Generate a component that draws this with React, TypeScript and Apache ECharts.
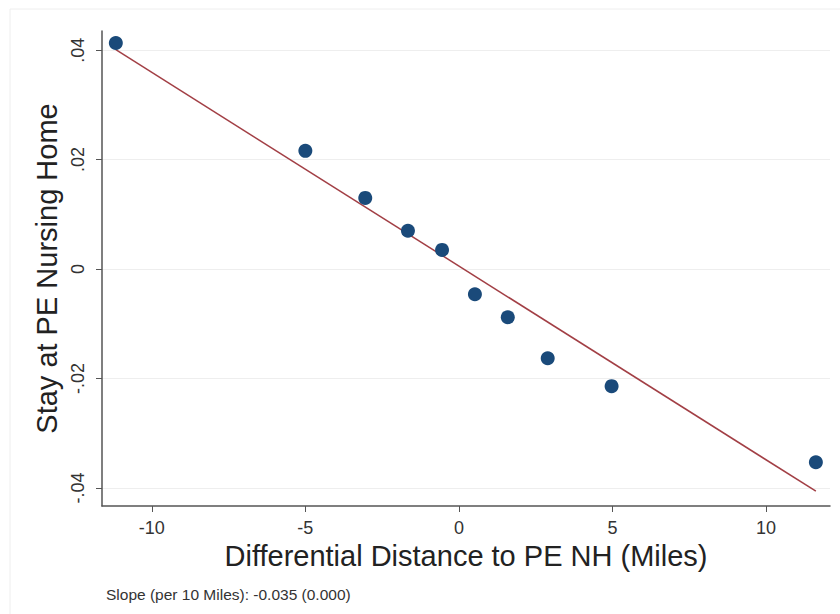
import { useEffect, useRef } from 'react';
import * as echarts from 'echarts';

// binned scatter points (miles, share)
const binX = [-11.17, -5.0, -3.05, -1.66, -0.55, 0.52, 1.59, 2.89, 4.97, 11.62];
const binY = [0.0413, 0.0216, 0.013, 0.007, 0.0035, -0.0046, -0.0088, -0.0163, -0.0214, -0.0353];

// fitted line end points
const fitX = [-11.17, 11.62];
const fitY = [0.0401, -0.0406];

const xTicks = [-10, -5, 0, 5, 10];
const yTicks = [-0.04, -0.02, 0, 0.02, 0.04];

const xTitle = 'Differential Distance to PE NH (Miles)';
const yTitle = 'Stay at PE Nursing Home';
const note = 'Slope (per 10 Miles): -0.035 (0.000)';

const FONT = '"Liberation Sans", Arial, sans-serif';

const fmtY = (v: number) => {
  if (Math.abs(v) < 1e-9) return '0';
  const s = Math.abs(v).toFixed(2).replace(/^0/, '');
  return v < 0 ? '-' + s : s;
};

export default function App() {
  const chartRef = useRef<HTMLDivElement>(null);

  useEffect(() => {
    if (!chartRef.current) return;
    const chart = echarts.init(chartRef.current, undefined, { renderer: 'svg' });

    const option = {
      animation: false,
      backgroundColor: '#ffffff',
      grid: { left: 102, right: 10, top: 31, bottom: 108, containLabel: false },
      xAxis: {
        type: 'value',
        min: -11.62,
        max: 12.08,
        name: xTitle,
        nameLocation: 'middle',
        nameGap: 34,
        nameTextStyle: { fontFamily: FONT, fontSize: 29, color: '#222' },
        axisLine: { onZero: false, lineStyle: { color: '#555', width: 1.5 } },
        axisTick: { show: true, length: 6, lineStyle: { color: '#555' }, customValues: xTicks },
        axisLabel: { fontFamily: FONT, fontSize: 18, color: '#333', margin: 13, customValues: xTicks },
        splitLine: { show: false },
      },
      yAxis: {
        type: 'value',
        min: -0.0433,
        max: 0.0435,
        name: yTitle,
        nameLocation: 'middle',
        nameRotate: 90,
        nameGap: 37,
        nameTextStyle: { fontFamily: FONT, fontSize: 29, color: '#222' },
        axisLine: { show: true, onZero: false, lineStyle: { color: '#555', width: 1.5 } },
        axisTick: { show: true, length: 6, lineStyle: { color: '#555' }, customValues: yTicks },
        axisLabel: {
          fontFamily: FONT, fontSize: 18, color: '#333', rotate: 90, margin: 15,
          customValues: yTicks, formatter: fmtY,
        },
        splitLine: { show: true, lineStyle: { color: '#eeeeee', width: 1.2 } },
      },
      graphic: [
        {
          type: 'rect',
          shape: { x: 10, y: 9, width: 840, height: 620 },
          style: { fill: 'none', stroke: '#eeeeee', lineWidth: 1 },
          silent: true,
        },
        {
          type: 'text',
          left: 106,
          top: 586,
          style: { text: note, font: `15.5px ${FONT}`, fill: '#333' },
        },
      ],
      series: [
        {
          type: 'line',
          data: fitX.map((x, i) => [x, fitY[i]]),
          symbol: 'none',
          lineStyle: { color: '#a23f45', width: 1.5 },
          z: 2,
        },
        {
          type: 'scatter',
          data: binX.map((x, i) => [x, binY[i]]),
          symbolSize: 14,
          itemStyle: { color: '#1a4a7a', opacity: 1 },
          z: 3,
        },
      ],
    };

    chart.setOption(option);
    return () => chart.dispose();
  }, []);

  return (
    <div
      ref={chartRef}
      style={{ position: 'fixed', left: 0, top: 0, width: 840, height: 614 }}
    />
  );
}
